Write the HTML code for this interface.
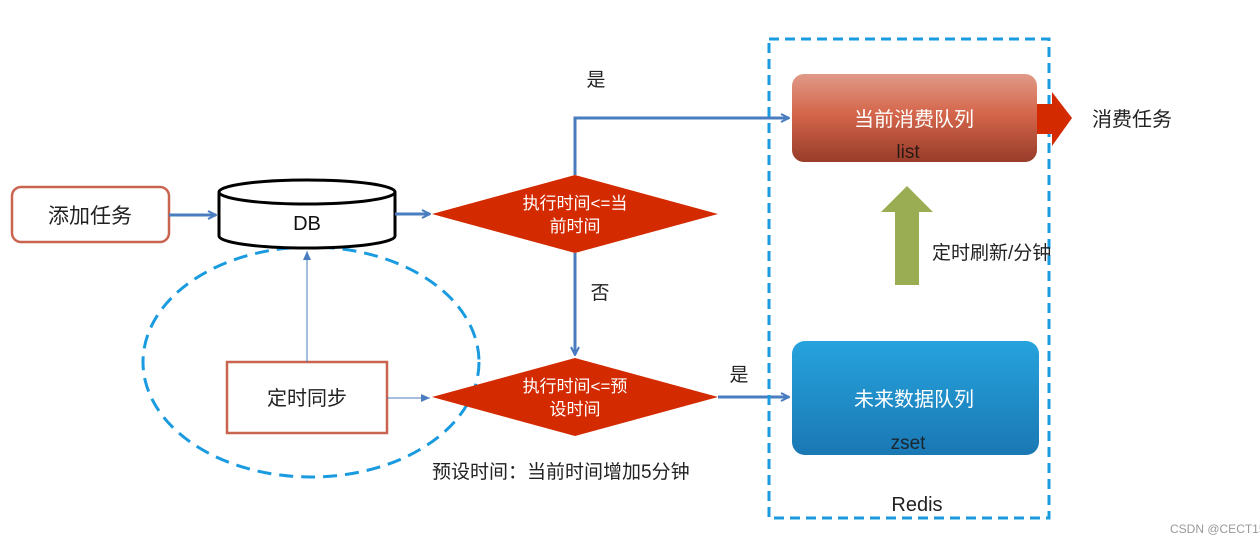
<!DOCTYPE html>
<html><head><meta charset="utf-8"><style>
html,body{margin:0;padding:0;background:#fff;}
svg{display:block;font-family:"Liberation Sans","Noto Sans CJK SC",sans-serif;}
</style></head><body>
<svg width="1260" height="543" viewBox="0 0 1260 543" xmlns="http://www.w3.org/2000/svg">
<defs>
<linearGradient id="rg" x1="0" y1="0" x2="0" y2="1">
<stop offset="0" stop-color="#e09a88"/><stop offset="0.45" stop-color="#d4664b"/><stop offset="1" stop-color="#983c2a"/>
</linearGradient>
<linearGradient id="bg" x1="0" y1="0" x2="0" y2="1">
<stop offset="0" stop-color="#26a3dd"/><stop offset="1" stop-color="#1a78b4"/>
</linearGradient>
<marker id="ah" markerWidth="10" markerHeight="10" refX="9" refY="5" orient="auto" markerUnits="userSpaceOnUse">
<path d="M1,1 L9,5 L1,9" fill="none" stroke="#4a7cc0" stroke-width="2"/>
</marker>
<marker id="ah2" markerWidth="10" markerHeight="10" refX="9" refY="5" orient="auto" markerUnits="userSpaceOnUse">
<path d="M0,1 L9,5 L0,9 z" fill="#4a7cc0"/>
</marker>
</defs>

<!-- dashed ellipse -->
<ellipse cx="311" cy="362" rx="168" ry="115" fill="none" stroke="#1a9be0" stroke-width="3" stroke-dasharray="14,8"/>

<!-- add task -->
<rect x="12" y="187" width="157" height="55" rx="9" fill="#fff" stroke="#c8644f" stroke-width="2.5"/>
<text x="90" y="223" font-size="21" text-anchor="middle" fill="#222">添加任务</text>
<line x1="169" y1="215" x2="216" y2="215" stroke="#4a7cc0" stroke-width="3" marker-end="url(#ah)"/>

<!-- DB -->
<path d="M219,192 L219,236 A88,12 0 0 0 395,236 L395,192" fill="#fff" stroke="#000" stroke-width="3"/>
<ellipse cx="307" cy="192" rx="88" ry="12" fill="#fff" stroke="#000" stroke-width="3"/>
<text x="307" y="230" font-size="20" text-anchor="middle" fill="#111">DB</text>
<line x1="395" y1="214" x2="430" y2="214" stroke="#4a7cc0" stroke-width="3" marker-end="url(#ah)"/>

<!-- diamond 1 -->
<polygon points="432,214 575,175 718,214 575,253" fill="#d42a00"/>
<text x="575" y="209" font-size="17" text-anchor="middle" fill="#fff">执行时间&lt;=当</text>
<text x="575" y="232" font-size="17" text-anchor="middle" fill="#fff">前时间</text>
<polyline points="575,175 575,118 789,118" fill="none" stroke="#4a7cc0" stroke-width="3" marker-end="url(#ah)"/>
<text x="596" y="86" font-size="19" text-anchor="middle" fill="#222">是</text>
<line x1="575" y1="253" x2="575" y2="355" stroke="#4a7cc0" stroke-width="3" marker-end="url(#ah)"/>
<text x="600" y="299" font-size="19" text-anchor="middle" fill="#222">否</text>

<!-- diamond 2 -->
<polygon points="432,397 575,358 718,397 575,436" fill="#d42a00"/>
<text x="575" y="392" font-size="17" text-anchor="middle" fill="#fff">执行时间&lt;=预</text>
<text x="575" y="415" font-size="17" text-anchor="middle" fill="#fff">设时间</text>
<line x1="718" y1="397" x2="789" y2="397" stroke="#4a7cc0" stroke-width="3" marker-end="url(#ah)"/>
<text x="739" y="381" font-size="19" text-anchor="middle" fill="#222">是</text>
<text x="432" y="478" font-size="19" fill="#222">预设时间：当前时间增加5分钟</text>

<!-- sync box -->
<rect x="227" y="362" width="160" height="71" fill="#fff" stroke="#c8644f" stroke-width="2.5"/>
<text x="307" y="405" font-size="20" text-anchor="middle" fill="#222">定时同步</text>
<line x1="307" y1="362" x2="307" y2="251" stroke="#4a7cc0" stroke-width="1" marker-end="url(#ah2)"/>
<line x1="387" y1="398" x2="430" y2="398" stroke="#4a7cc0" stroke-width="1" marker-end="url(#ah2)"/>

<!-- Redis -->
<rect x="769" y="39" width="280" height="479" fill="none" stroke="#1a9be0" stroke-width="3" stroke-dasharray="10,6"/>
<text x="917" y="511" font-size="20" text-anchor="middle" fill="#222">Redis</text>

<rect x="792" y="74" width="245" height="88" rx="12" fill="url(#rg)"/>
<text x="914" y="126" font-size="20" text-anchor="middle" fill="#fff">当前消费队列</text>
<text x="908" y="158" font-size="19" text-anchor="middle" fill="#2a1a14">list</text>
<polygon points="1037,104 1052,104 1052,92 1072,118 1052,146 1052,134 1037,134" fill="#d42a00"/>
<text x="1092" y="126" font-size="20" fill="#222">消费任务</text>

<polygon points="907,186 933,212 919,212 919,285 895,285 895,212 881,212" fill="#9bad52"/>
<text x="932" y="259" font-size="19" fill="#222">定时刷新/分钟</text>

<rect x="792" y="341" width="247" height="114" rx="13" fill="url(#bg)"/>
<text x="914" y="406" font-size="20" text-anchor="middle" fill="#fff">未来数据队列</text>
<text x="908" y="449" font-size="19" text-anchor="middle" fill="#1a2630">zset</text>

<text x="1170" y="533" font-size="12" fill="#999">CSDN @CECT151</text>
</svg>
</body></html>
